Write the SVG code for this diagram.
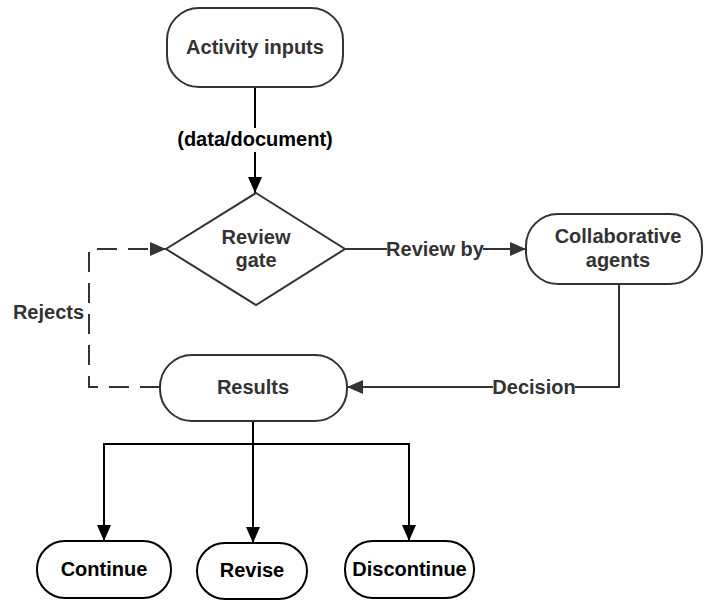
<svg xmlns="http://www.w3.org/2000/svg" width="704" height="601" viewBox="0 0 704 601">
<defs>
<style>
.n{fill:#fff;stroke:#333;stroke-width:2}
.nb{fill:#fff;stroke:#000;stroke-width:2}
.t{font-family:"Liberation Sans",Arial,sans-serif;font-weight:bold;font-size:20px;fill:#333;text-anchor:middle}
.tb{fill:#000}
.c{fill:none;stroke:#333;stroke-width:2}
.cb{fill:none;stroke:#000;stroke-width:2}
.d{stroke-dasharray:20 11}
.lbg{fill:#fff}
</style>
<marker id="a" viewBox="0 0 16 14" refX="16" refY="7" markerWidth="16" markerHeight="14" markerUnits="userSpaceOnUse" orient="auto">
<path d="M0,0 L16,7 L0,14 Z" fill="#333"/>
</marker>
<marker id="ab" viewBox="0 0 16 14" refX="16" refY="7" markerWidth="16" markerHeight="14" markerUnits="userSpaceOnUse" orient="auto">
<path d="M0,0 L16,7 L0,14 Z" fill="#000"/>
</marker>
</defs>
<g id="connectors">
<path class="cb" d="M255,87 L255,193" marker-end="url(#ab)"/>
<rect class="lbg" x="175" y="128" width="160" height="24"/>
<text class="t tb" x="255" y="146">(data/document)</text>
<path class="c" d="M345,249 L526,249" marker-end="url(#a)"/>
<rect class="lbg" x="387" y="238" width="96" height="22"/>
<text class="t" x="435" y="256">Review by</text>
<path class="c" d="M619,284 L619,387 L347,387" marker-end="url(#a)"/>
<rect class="lbg" x="493" y="376" width="82" height="22"/>
<text class="t" x="534" y="394">Decision</text>
<path class="c d" d="M160,387 L89,387 L89,249 L166,249" marker-end="url(#a)"/>
<text class="t" x="48.5" y="319">Rejects</text>
<path class="cb" d="M253,421 L253,444 L104,444 L104,541" marker-end="url(#ab)"/>
<path class="cb" d="M253,444 L253,543" marker-end="url(#ab)"/>
<path class="cb" d="M253,444 L409,444 L409,541" marker-end="url(#ab)"/>
</g>
<g id="activity-inputs">
<rect class="n" x="167" y="8" width="176" height="79" rx="32" ry="32"/>
<text class="t" x="255" y="54">Activity inputs</text>
</g>
<g id="review-gate">
<path class="n" d="M256,193 L345,249 L256,305 L166,249 Z"/>
<text class="t" x="256" y="244">Review</text>
<text class="t" x="256" y="267">gate</text>
</g>
<g id="collaborative-agents">
<rect class="n" x="526" y="214" width="176" height="70" rx="32" ry="32"/>
<text class="t" x="618" y="243">Collaborative</text>
<text class="t" x="618" y="267">agents</text>
</g>
<g id="results">
<rect class="n" x="160" y="355" width="187" height="66" rx="32" ry="32"/>
<text class="t" x="253" y="394">Results</text>
</g>
<g id="continue">
<rect class="nb" x="37" y="541" width="134" height="57" rx="28" ry="28"/>
<text class="t tb" x="104" y="576">Continue</text>
</g>
<g id="revise">
<rect class="nb" x="197" y="543" width="110" height="56" rx="28" ry="28"/>
<text class="t tb" x="252" y="577">Revise</text>
</g>
<g id="discontinue">
<rect class="nb" x="345" y="541" width="129" height="57" rx="28" ry="28"/>
<text class="t tb" x="409.5" y="576">Discontinue</text>
</g>
</svg>
